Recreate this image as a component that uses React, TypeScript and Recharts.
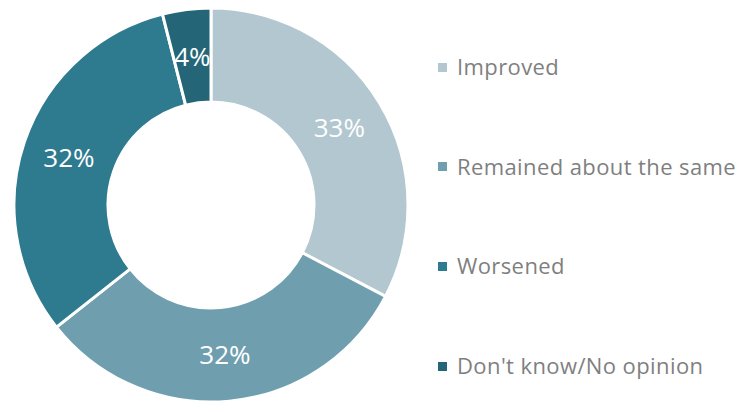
import React from 'react';
import { PieChart, Pie, Cell } from 'recharts';

const categories = ['Improved', 'Remained about the same', 'Worsened', "Don't know/No opinion"];
const values = [33, 32, 32, 4];
const colors = ['#b2c7cf', '#6f9faf', '#2e7a8f', '#246677'];

const data = categories.map((name, i) => ({ name, value: values[i] }));

const RAD = Math.PI / 180;

const renderLabel = (props: any) => {
  const { cx, cy, midAngle, innerRadius, outerRadius, value } = props;
  const r = (innerRadius + outerRadius) / 2;
  const x = cx + r * Math.cos(-midAngle * RAD);
  const y = cy + r * Math.sin(-midAngle * RAD);
  return (
    <text
      x={x}
      y={y}
      fill="#ffffff"
      textAnchor="middle"
      dominantBaseline="central"
      fontSize={26}
      fontFamily="'Open Sans', sans-serif"
    >
      {`${value}%`}
    </text>
  );
};

const LegendBlock = () => (
  <div style={{ position: 'absolute', left: 438, top: 0, width: 308, height: 402 }}>
    {categories.map((c, i) => (
      <div
        key={c}
        style={{
          position: 'absolute',
          left: 0,
          top: 66 + i * 99.7 - 15,
          height: 30,
          display: 'flex',
          alignItems: 'center',
          fontFamily: "'Open Sans', sans-serif",
          fontSize: 22,
          letterSpacing: 0.4,
          color: '#7f7f7f',
          whiteSpace: 'nowrap',
        }}
      >
        <span
          style={{
            display: 'inline-block',
            width: 9,
            height: 9,
            background: colors[i],
            marginRight: 10,
            marginTop: 2,
          }}
        />
        {c}
      </div>
    ))}
  </div>
);

export default function App() {
  return (
    <div style={{ position: 'absolute', left: 0, top: 0, width: 746, height: 402, background: '#fff' }}>
      <PieChart width={746} height={402} margin={{ top: 0, right: 0, bottom: 0, left: 0 }}>
        <Pie
          data={data}
          dataKey="value"
          nameKey="name"
          cx={211}
          cy={205}
          outerRadius={197}
          innerRadius={103}
          startAngle={90}
          endAngle={-270}
          stroke="#ffffff"
          strokeWidth={3}
          label={renderLabel}
          labelLine={false}
          isAnimationActive={false}
        >
          {data.map((d, i) => (
            <Cell key={d.name} fill={colors[i]} />
          ))}
        </Pie>
      </PieChart>
      <LegendBlock />
    </div>
  );
}
